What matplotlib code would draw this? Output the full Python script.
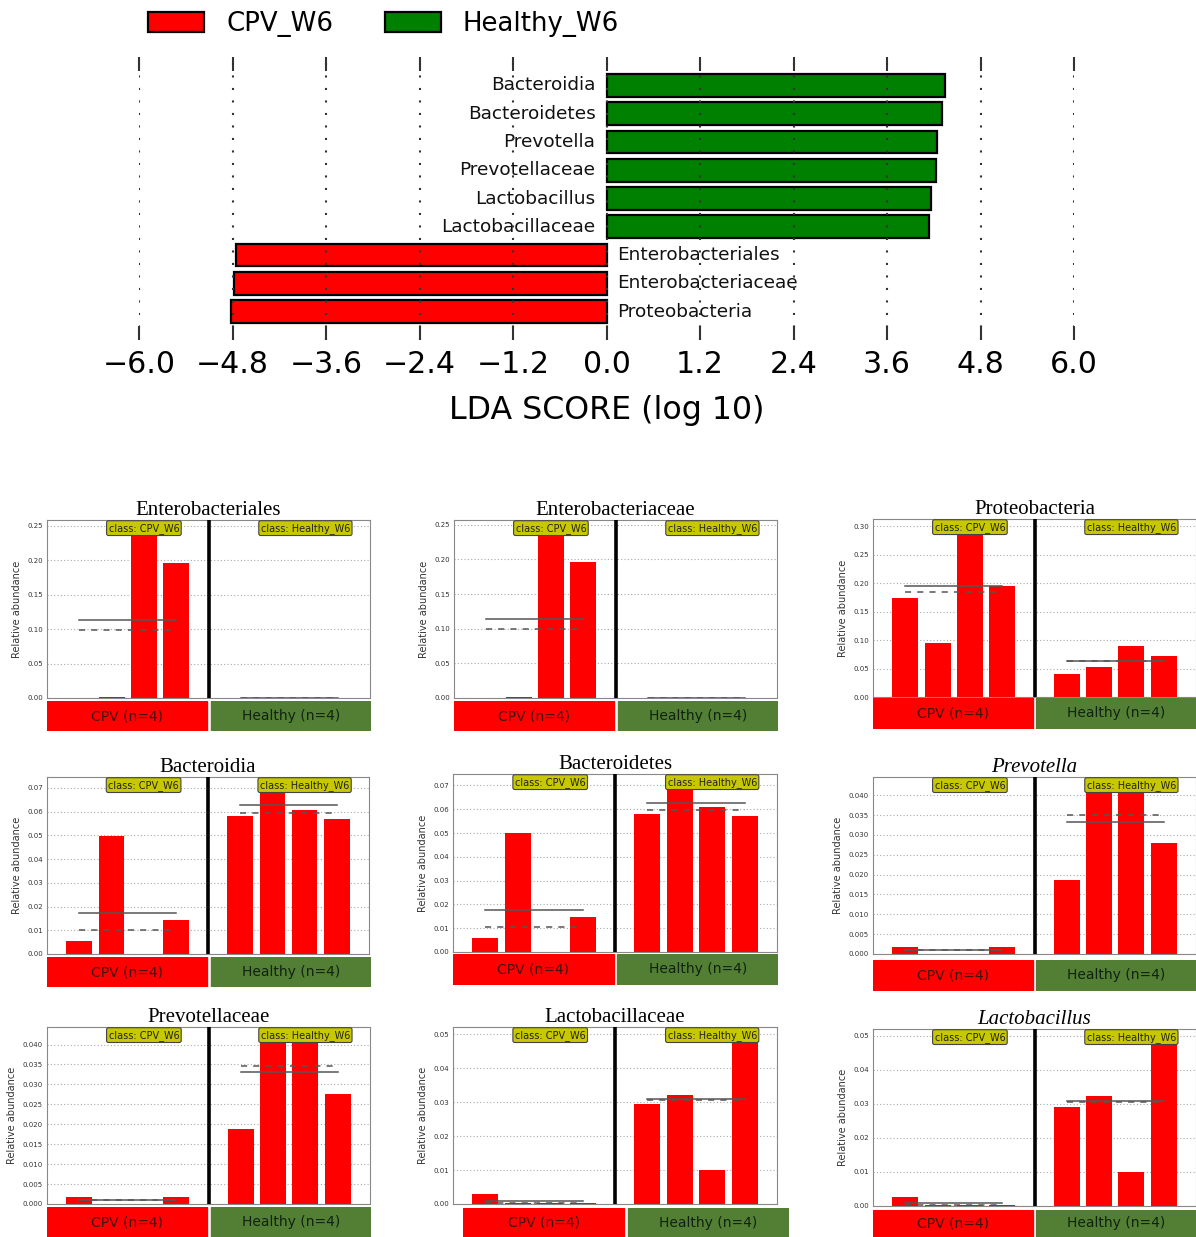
import numpy as np
import matplotlib
matplotlib.use("Agg")
import matplotlib.pyplot as plt
from matplotlib.patches import Patch
from matplotlib.ticker import FuncFormatter, MultipleLocator, FormatStrFormatter
import matplotlib.transforms as mtrans

# LDA effect sizes
lda_names = ["Bacteroidia", "Bacteroidetes", "Prevotella", "Prevotellaceae",
             "Lactobacillus", "Lactobacillaceae", "Enterobacteriales",
             "Enterobacteriaceae", "Proteobacteria"]
lda_scores = [4.35, 4.31, 4.24, 4.23, 4.17, 4.14, -4.76, -4.78, -4.82]
lda_ticks = [-6.0, -4.8, -3.6, -2.4, -1.2, 0.0, 1.2, 2.4, 3.6, 4.8, 6.0]

# relative abundance per sample: 4 CPV then 4 Healthy
enterobacteriales = [0.0, 0.001, 0.258, 0.195, 0.0003, 0.0003, 0.0003, 0.0003]
enterobacteriaceae = [0.0, 0.001, 0.257, 0.197, 0.0003, 0.0003, 0.0003, 0.0003]
proteobacteria = [0.1735, 0.0953, 0.313, 0.196, 0.0412, 0.0529, 0.0894, 0.0724]
bacteroidia = [0.0056, 0.0498, 0.0, 0.0144, 0.058, 0.0746, 0.0609, 0.0571]
bacteroidetes = [0.006, 0.0498, 0.0, 0.0148, 0.058, 0.0748, 0.061, 0.0572]
prevotella = [0.0017, 0.0001, 0.0, 0.0018, 0.0187, 0.0419, 0.0446, 0.028]
prevotellaceae = [0.0017, 0.0001, 0.0, 0.0018, 0.0189, 0.0416, 0.0444, 0.0275]
lactobacillaceae = [0.0028, 0.0003, 0.0002, 0.0002, 0.0293, 0.032, 0.0099, 0.0521]
lactobacillus = [0.0027, 0.0003, 0.0002, 0.0002, 0.0292, 0.0322, 0.010, 0.052]

group_names = ["CPV (n=4)", "Healthy (n=4)"]
class_names = ["class: CPV_W6", "class: Healthy_W6"]

W, H = 1196, 1237
fig = plt.figure(figsize=(W / 100, H / 100), dpi=100)


def rect(l, r, t, b):
    return [l / W, 1 - b / H, (r - l) / W, (b - t) / H]


# ---- LDA bar chart ----
ax = fig.add_axes(rect(139, 1074, 57, 340))
ypos = np.arange(len(lda_names))[::-1]
colors = ["green" if s > 0 else "red" for s in lda_scores]
ax.barh(ypos, lda_scores, height=0.8, color=colors, edgecolor="black", linewidth=1.6)
for y, name, s in zip(ypos, lda_names, lda_scores):
    off = -8 if s > 0 else 8
    ax.annotate(name, (0, y), xytext=(off, 0), textcoords="offset points",
                ha="right" if s > 0 else "left", va="center", fontsize=13.3,
                color="#111", zorder=2)
ax.set_xlim(-6, 6)
ax.set_ylim(-1, 9)
ax.set_xticks(lda_ticks)
ax.xaxis.set_major_formatter(FuncFormatter(lambda v, p: f"{v:.1f}".replace("-", "\u2212")))
ax.set_yticks([])
for sp in ax.spines.values():
    sp.set_visible(False)
ax.tick_params(axis="x", top=True, bottom=True, direction="in", length=10,
               width=1.5, color="#333", labelsize=21.6, pad=7)
ax.set_axisbelow(False)
ax.xaxis.grid(True, linestyle=(0, (1, 5)), color="#333", linewidth=1.5)
ax.set_xlabel("LDA SCORE (log 10)", fontsize=22.8, labelpad=12)

fig.legend(handles=[Patch(facecolor="red", edgecolor="black", linewidth=1.6, label="CPV_W6"),
                    Patch(facecolor="green", edgecolor="black", linewidth=1.6, label="Healthy_W6")],
           ncol=2, frameon=False, fontsize=18.7, loc="center left",
           bbox_to_anchor=(138 / W, 1 - 24 / H), borderaxespad=0,
           handlelength=2.14, handleheight=0.78, handletextpad=0.85, columnspacing=2.0)

# ---- per-feature abundance panels ----
panels = [
    ("Enterobacteriales", enterobacteriales, 0.05, "%.2f", False),
    ("Enterobacteriaceae", enterobacteriaceae, 0.05, "%.2f", False),
    ("Proteobacteria", proteobacteria, 0.05, "%.2f", False),
    ("Bacteroidia", bacteroidia, 0.01, "%.2f", False),
    ("Bacteroidetes", bacteroidetes, 0.01, "%.2f", False),
    ("Prevotella", prevotella, 0.005, "%.3f", True),
    ("Prevotellaceae", prevotellaceae, 0.005, "%.3f", False),
    ("Lactobacillaceae", lactobacillaceae, 0.01, "%.2f", False),
    ("Lactobacillus", lactobacillus, 0.01, "%.2f", True),
]

# (left, right, top, bottom) of plot area, then label strip (left, right, top, bottom)
boxes = [
    ((47, 370, 520, 698), (47, 371, 701, 731)),
    ((454, 777, 520, 698), (454, 778, 701, 731)),
    ((873, 1196, 519, 697), (873, 1196, 698, 729)),
    ((47, 369, 777, 954), (47, 371, 957, 987)),
    ((453, 777, 774, 952), (453, 778, 954, 985)),
    ((873, 1196, 777, 954), (873, 1196, 960, 991)),
    ((47, 370, 1027, 1204), (47, 371, 1207, 1237)),
    ((453, 777, 1027, 1204), (463, 789, 1208, 1237)),
    ((873, 1196, 1029, 1206), (873, 1196, 1210, 1237)),
]

xs = np.array([1, 2, 3, 4, 6, 7, 8, 9])
for (title, vals, step, fmt, italic), (main, strip) in zip(panels, boxes):
    vals = np.array(vals)
    a = fig.add_axes(rect(*main))
    a.bar(xs, vals, width=0.8, color="red", linewidth=0, zorder=2)
    for grp in (slice(0, 4), slice(4, 8)):
        gx = xs[grp]
        a.plot([gx[0], gx[-1]], [vals[grp].mean()] * 2, color="#555", lw=1.1, zorder=3)
        a.plot([gx[0], gx[-1]], [np.median(vals[grp])] * 2, color="#555", lw=1.1,
               dashes=(4, 4), zorder=3)
    a.axvline(5, color="black", lw=2.6, zorder=4)
    a.set_xlim(0, 10)
    a.set_ylim(0, vals.max())
    a.set_xticks([])
    a.yaxis.set_major_locator(MultipleLocator(step))
    a.yaxis.set_major_formatter(FormatStrFormatter(fmt))
    a.tick_params(axis="y", labelsize=5, length=0, pad=3, labelcolor="#333")
    a.yaxis.grid(True, linestyle=(0, (1, 2)), color="#aaa", lw=0.8)
    a.set_axisbelow(True)
    for sp in a.spines.values():
        sp.set_color("#888")
    a.set_ylabel("Relative abundance", fontsize=7, color="#333", labelpad=4)
    a.set_title(title, fontsize=15, family="Liberation Serif",
                style="italic" if italic else "normal", pad=3)
    tr = mtrans.blended_transform_factory(a.transData, a.transAxes)
    for cx, cname in zip((3, 8), class_names):
        a.text(cx, 0.985, cname, transform=tr, ha="center", va="top", fontsize=7,
               color="#222", zorder=5,
               bbox=dict(boxstyle="round,pad=0.2", fc="#c8c800", ec="#444", lw=0.8))

    s = fig.add_axes(rect(*strip))
    s.set_xlim(0, 10)
    s.set_ylim(0, 1)
    s.axvspan(0, 4.94, color="red")
    s.axvspan(5.06, 10, color="#527f33")
    s.text(2.47, 0.5, group_names[0], ha="center", va="center", fontsize=10, color="#441111")
    s.text(7.53, 0.5, group_names[1], ha="center", va="center", fontsize=10, color="#112211")
    s.axis("off")

fig.savefig("out.png", dpi=100)
